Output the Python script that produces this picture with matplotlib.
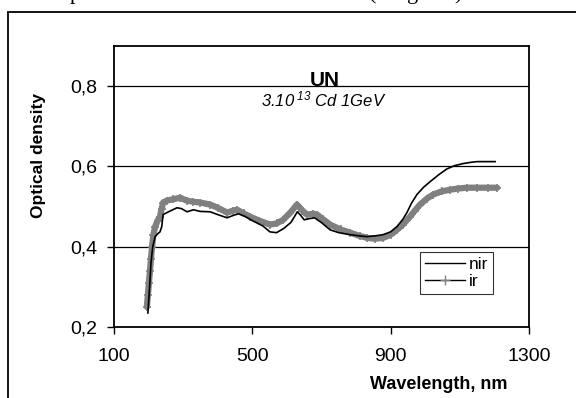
import matplotlib
matplotlib.use("Agg")
import matplotlib.pyplot as plt
from matplotlib.lines import Line2D
from matplotlib.patches import Rectangle
from matplotlib.ticker import FuncFormatter

plt.rcParams['font.family'] = ['Liberation Sans', 'DejaVu Sans']
plt.rcParams['mathtext.fontset'] = 'custom'
plt.rcParams['mathtext.it'] = 'Liberation Sans:italic'
plt.rcParams['mathtext.rm'] = 'Liberation Sans:italic'

# nir spectrum (wavelength nm, optical density)
nir_wl = [198, 203, 207, 212, 219, 226, 233, 238, 242, 253, 265, 282, 295, 311, 330, 349,
          378, 400, 427, 445, 460, 480, 500, 530, 551, 570, 590, 611, 622, 630, 640, 650,
          665, 680, 700, 725, 750, 783, 810, 832, 855, 878, 900, 918, 935, 947, 960, 976,
          995, 1014, 1040, 1063, 1085, 1109, 1130, 1150, 1175, 1202]
nir_od = [0.235, 0.30, 0.36, 0.40, 0.425, 0.432, 0.437, 0.45, 0.48, 0.485, 0.49, 0.497,
          0.495, 0.487, 0.492, 0.488, 0.487, 0.48, 0.472, 0.478, 0.482, 0.475, 0.465, 0.452,
          0.437, 0.435, 0.445, 0.46, 0.475, 0.487, 0.478, 0.467, 0.47, 0.472, 0.46, 0.442,
          0.435, 0.43, 0.427, 0.425, 0.427, 0.43, 0.437, 0.45, 0.468, 0.485, 0.508, 0.53,
          0.548, 0.562, 0.58, 0.594, 0.602, 0.607, 0.61, 0.612, 0.612, 0.612]

# ir spectrum
ir_wl = [195, 198, 201, 204, 207, 210, 214, 219, 226, 233, 238, 242, 253, 270, 291, 310,
         329, 350, 378, 400, 427, 445, 456, 475, 493, 520, 551, 570, 589, 610, 629, 645,
         658, 675, 687, 705, 725, 755, 783, 810, 832, 855, 878, 900, 918, 935, 956, 970,
         985, 1005, 1023, 1048, 1072, 1095, 1121, 1150, 1180, 1208]
ir_od = [0.25, 0.28, 0.31, 0.34, 0.37, 0.40, 0.43, 0.45, 0.465, 0.475, 0.495, 0.51, 0.515,
         0.518, 0.522, 0.515, 0.512, 0.51, 0.505, 0.497, 0.485, 0.49, 0.492, 0.483, 0.475,
         0.465, 0.455, 0.458, 0.467, 0.485, 0.505, 0.49, 0.48, 0.482, 0.48, 0.468, 0.455,
         0.443, 0.435, 0.427, 0.422, 0.42, 0.422, 0.43, 0.442, 0.455, 0.475, 0.49, 0.505,
         0.52, 0.53, 0.538, 0.542, 0.545, 0.547, 0.547, 0.547, 0.547]

x_ticks = [100, 500, 900, 1300]
y_ticks = [0.2, 0.4, 0.6, 0.8]

fig = plt.figure(figsize=(5.76, 3.98), dpi=100)
ax = fig.add_axes([114 / 576, 1 - 327 / 398, 415 / 576, 281 / 398])

ax.plot(ir_wl, ir_od, color='#808080', lw=4.5, marker='+', ms=6, mew=1.2,
        mec='#808080', solid_capstyle='round', zorder=3)
ax.plot(nir_wl, nir_od, color='black', lw=1.2, zorder=4)

ax.set_xlim(100, 1300)
ax.set_ylim(0.2, 0.9)
ax.set_xticks(x_ticks)
ax.set_yticks(y_ticks)
ax.yaxis.set_major_formatter(FuncFormatter(lambda v, p: f"{v:.1f}".replace('.', ',')))
for y in y_ticks[1:]:
    ax.axhline(y, color='black', lw=0.9, zorder=1)
ax.tick_params(direction='out', length=5, width=1, labelsize=14)
ax.tick_params(axis='y', pad=7)
ax.tick_params(axis='x', pad=10)
for s in ax.spines.values():
    s.set_linewidth(1.3)

ax.set_ylabel('Optical density', fontsize=12.5, fontweight='bold')
ax.yaxis.set_label_coords(-0.164, 0.612)
ax.set_xlabel('Wavelength, nm', fontsize=13, fontweight='bold')
ax.xaxis.set_label_coords(0.947, -0.175)
ax.xaxis.label.set_horizontalalignment('right')
ax.xaxis.label.set_verticalalignment('top')

fig.text(325 / 576, 1 - 86 / 398, 'UN', fontsize=15, fontweight='bold', ha='center', va='baseline')
fig.text(324 / 576, 1 - 106 / 398, r'3.10$^{\ 13}$ Cd 1GeV', fontsize=12, style='italic',
         ha='center', va='baseline')

handles = [Line2D([], [], color='black', lw=1),
           Line2D([], [], color='black', lw=1, marker='+', mec='#808080', ms=7)]
leg = ax.legend(handles, ['nir', 'ir'], loc='lower left', bbox_to_anchor=(306 / 415, 33 / 281),
                fontsize=12.5, frameon=True, fancybox=False, edgecolor='black',
                handlelength=2.3, handletextpad=0.2, borderpad=0.3, labelspacing=0.1,
                borderaxespad=0)
leg.get_frame().set_linewidth(0.8)

# outer chart frame (open at the bottom, runs past the right edge)
fig.patches.append(Rectangle((8 / 576, -0.1), 1.2, 1.1 - 12 / 398, transform=fig.transFigure,
                             fill=False, lw=1.3, edgecolor='black'))

# fragments of the text line above the chart
for xp, s in [(70, 'p'), (369, '('), (407, 'g'), (454, ')')]:
    fig.text(xp / 576, 1.0 + 1 / 398, s, family='Liberation Serif', fontsize=16, va='baseline')

fig.savefig('out.png', dpi=100)
